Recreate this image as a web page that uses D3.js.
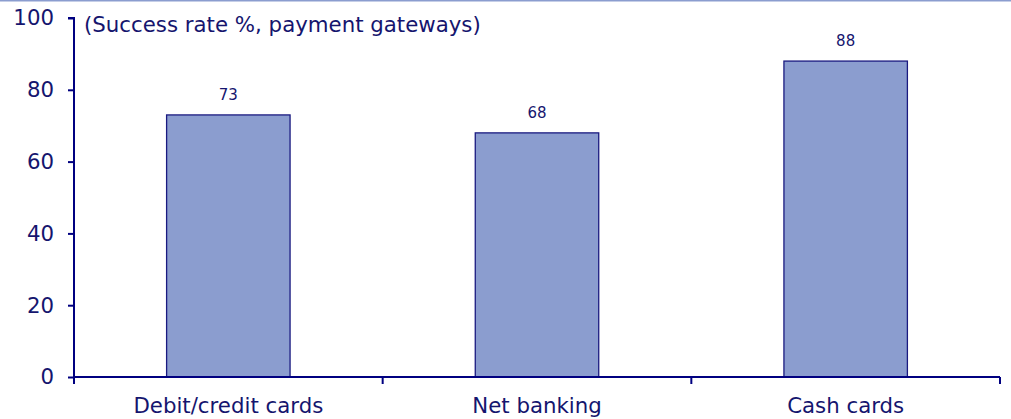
<!DOCTYPE html>
<html>
<head>
<meta charset="utf-8">
<script src="https://cdn.jsdelivr.net/npm/d3@7"></script>
<style>
  html, body { margin: 0; padding: 0; background: #fff; }
  svg { display: block; }
  text { font-family: "DejaVu Sans", Verdana, sans-serif; fill: #15156e; }
</style>
</head>
<body>
<svg id="chart" width="1011" height="419"></svg>
<script>
const categories = ["Debit/credit cards", "Net banking", "Cash cards"];
const values = [73, 68, 88];
const yTicks = [0, 20, 40, 60, 80, 100];
const title = "(Success rate %, payment gateways)";

(function () {
const svg = d3.select("#chart");
const W = 1011, H = 419;
const mLeft = 74, mRight = 1000, mTop = 18, mBottom = 377;
const navy = "#000080";
const fs = 21.3;

// top rule
svg.append("rect").attr("x", 0).attr("y", 0).attr("width", W).attr("height", 1.5).attr("fill", "#8b9dcf");

const x = d3.scaleBand().domain(categories).range([mLeft, mRight]).paddingInner(0).paddingOuter(0);
const y = d3.scaleLinear().domain([0, 100]).range([mBottom, mTop]);

const barW = x.bandwidth() * 0.4;

svg.selectAll("rect.bar").data(values).join("rect")
  .attr("class", "bar")
  .attr("x", (d, i) => x(categories[i]) + x.bandwidth() / 2 - barW / 2)
  .attr("y", d => y(d))
  .attr("width", barW)
  .attr("height", d => y(0) - y(d))
  .attr("fill", "#8b9dcf")
  .attr("stroke", "#1a1a80")
  .attr("stroke-width", 1.3);

svg.selectAll("text.val").data(values).join("text")
  .attr("class", "val")
  .attr("x", (d, i) => x(categories[i]) + x.bandwidth() / 2)
  .attr("y", d => y(d) - 15)
  .attr("text-anchor", "middle")
  .attr("font-size", 15)
  .text(d => d);

// y axis
const yAxis = d3.axisLeft(y).tickValues(yTicks).tickSize(6).tickPadding(14).tickFormat(d3.format("d"));
const gy = svg.append("g").attr("transform", `translate(${mLeft},0)`).call(yAxis);
gy.select(".domain").attr("stroke", navy).attr("stroke-width", 2).attr("d", `M-6,${mTop}H0V${mBottom}`);
gy.selectAll(".tick line").attr("stroke", navy).attr("stroke-width", 2);
gy.selectAll(".tick text").attr("font-size", fs).attr("fill", "#15156e")
  .style("font-family", '"DejaVu Sans", Verdana, sans-serif');

// x axis
const gx = svg.append("g").attr("transform", `translate(0,${mBottom})`);
gx.append("line").attr("x1", mLeft).attr("x2", mRight).attr("y1", 0).attr("y2", 0)
  .attr("stroke", navy).attr("stroke-width", 2);
const bounds = categories.map(c => x(c)).concat([mRight]);
gx.selectAll("line.tk").data(bounds).join("line").attr("class", "tk")
  .attr("x1", d => d).attr("x2", d => d).attr("y1", 0).attr("y2", 7)
  .attr("stroke", navy).attr("stroke-width", 2);
gx.selectAll("text.cat").data(categories).join("text").attr("class", "cat")
  .attr("x", d => x(d) + x.bandwidth() / 2)
  .attr("y", 36)
  .attr("text-anchor", "middle")
  .attr("font-size", fs)
  .text(d => d);

svg.append("text").attr("x", 84).attr("y", 32).attr("font-size", fs).text(title);
})();
</script>
</body>
</html>
